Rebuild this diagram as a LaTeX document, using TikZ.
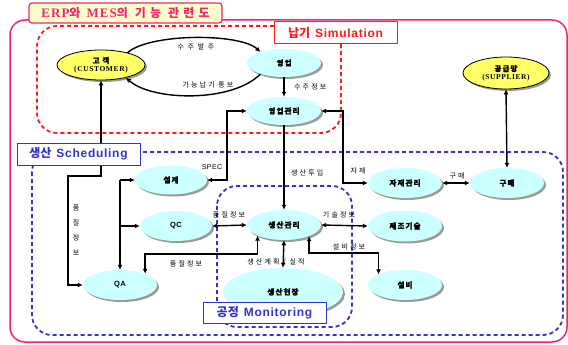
\documentclass[tikz,border=0pt]{standalone}
\usepackage{fontspec}
\setmainfont{Liberation Sans}
\newfontfamily\kr{Noto Sans CJK KR}
\newfontfamily\krs[LetterSpace=30]{Noto Sans CJK KR}
\newfontfamily\krn[LetterSpace=15, BoldFeatures={FakeBold=1.2}]{Noto Sans CJK KR}
\newfontfamily\krt[LetterSpace=35]{Noto Sans CJK KR}
\newfontfamily\serifb[LetterSpace=8]{Liberation Serif}
\newfontfamily\sansb[LetterSpace=6]{Liberation Sans}
\usetikzlibrary{arrows.meta,shapes.geometric,shadows}

\definecolor{pinkc}{HTML}{F2246E}
\definecolor{titlefill}{HTML}{FFFFCC}
\definecolor{yellowfill}{HTML}{FFFF66}
\definecolor{cyanfill}{HTML}{CCFFFF}
\definecolor{bluec}{HTML}{3333CC}
\definecolor{redc}{HTML}{FF1A1A}
\definecolor{shadowc}{HTML}{9A9A9A}

\tikzset{
  ell/.style={ellipse, inner sep=0pt,
    drop shadow={shadow xshift=2pt, shadow yshift=-2pt, fill=shadowc, opacity=1},
    font=\krn\bfseries\fontsize{7.5}{9}\selectfont, align=center},
  cyanell/.style={ell, fill=cyanfill, draw=none},
  yellowell/.style={ell, fill=yellowfill, draw=black, line width=0.8pt},
  tipp/.tip={Latex[length=5pt,width=5pt]},
  arr/.style={draw=black, line width=1.4pt, -tipp},
  biarr/.style={draw=black, line width=1.4pt, tipp-tipp},
  lbl/.style={font=\krs\fontsize{7}{8}\selectfont, inner sep=0pt},
  regionline/.style={line width=1.8pt, dash pattern=on 4pt off 3pt},
  tagbox/.style={fill=white, line width=1pt, inner sep=0pt,
    minimum width=123pt, font=\sansb\bfseries\fontsize{12}{14}\selectfont}
}

\begin{document}
\begin{tikzpicture}[x=1pt, y=-1pt]
\useasboundingbox (0,0) rectangle (568,345);

% outer frame and title
\draw[pinkc, line width=1.5pt, rounded corners=15pt] (10,20) rectangle (567,342);
\node[draw=pinkc, fill=titlefill, line width=1.2pt, rounded corners=3pt,
      minimum width=193pt, minimum height=20pt, inner sep=0pt, text=pinkc]
  (title) at (125.5,13)
  {{\serifb\bfseries\fontsize{13}{15}\selectfont ERP}{\krt\bfseries\fontsize{12}{15}\selectfont 와}\hspace{6pt}{\serifb\bfseries\fontsize{13}{15}\selectfont MES}{\krt\bfseries\fontsize{12}{15}\selectfont 의}\hspace{7pt}{\krt\bfseries\fontsize{12}{15}\selectfont 기능}\hspace{7pt}{\krt\bfseries\fontsize{12}{15}\selectfont 관련도}};

% regions
\draw[redc, regionline, rounded corners=20pt]
  (274,26) -- (37,26) -- (37,133) -- (341,133) -- (341,44);
\draw[bluec, regionline, rounded corners=20pt] (32,152) rectangle (563,335);
\draw[bluec, regionline, rounded corners=20pt] (217,186) rectangle (352,327);

% entities
\node[yellowell, minimum width=88pt, minimum height=30pt] (cust) at (101,65)
  {고 객\\[-1pt]{\serifb\bfseries\fontsize{7.5}{9}\selectfont (CUSTOMER)}};
\node[yellowell, minimum width=86pt, minimum height=32pt] (sup) at (506,73)
  {공급망\\[-1pt]{\serifb\bfseries\fontsize{7.5}{9}\selectfont (SUPPLIER)}};
\node[cyanell, minimum width=74pt, minimum height=28pt] (yg) at (284,63) {영업};
\node[cyanell, minimum width=74pt, minimum height=28pt] (ygm) at (284,111) {영업관리};
\node[cyanell, minimum width=72pt, minimum height=29pt] (sg) at (171,180) {설계};
\node[cyanell, minimum width=72pt, minimum height=30pt] (qc) at (176,226) {\sansb\bfseries QC};
\node[cyanell, minimum width=74pt, minimum height=30pt] (qa) at (120,285) {\sansb\bfseries QA};
\node[cyanell, minimum width=74pt, minimum height=30pt] (scm) at (284,225) {생산관리};
\node[cyanell, minimum width=120pt, minimum height=48pt] (scf) at (283,292) {생산현장};
\node[cyanell, minimum width=74pt, minimum height=30pt] (jj) at (405,183) {자재관리};
\node[cyanell, minimum width=74pt, minimum height=30pt] (gm) at (507,183) {구매};
\node[cyanell, minimum width=74pt, minimum height=31pt] (jt) at (405,226) {제조기술};
\node[cyanell, minimum width=74pt, minimum height=30pt] (sb) at (405,285) {설비};

% order and delivery loop
\draw[arr] (cust.25) .. controls (150,33) and (240,33) .. (yg.155);
\draw[arr] (yg.205) .. controls (232,103) and (152,101) .. (cust.333);
\node[lbl] (l1) at (196,47) {수 주 발 주};
\node[lbl] (l2) at (208,85) {가능납기 통보};

% sales flow
\draw[arr] (yg.south) -- (ygm.north);
\node[lbl, anchor=west] (l3) at (294,87) {수주정보};
\draw[arr] (ygm.south) -- (scm.north);
\node[lbl, anchor=west] (l4) at (291,173) {생산투입};
\draw[biarr] (ygm.west) -| (227,180) -- (sg.east);
\node[font=\sansb\fontsize{7}{8}\selectfont, inner sep=0pt] (l5) at (212,167) {SPEC};
\draw[biarr] (ygm.east) -| (343,183) -- (jj.west);
\node[lbl] (l6) at (358,171) {자재};
\draw[biarr] (jj.east) -- (gm.west);
\node[lbl] (l7) at (457,176) {구매};
\draw[biarr] (sup.south) -- (gm.north);

% quality information from customer
\draw[biarr] (cust.south) -- (101,176) -| (68,285) -- (qa.west);
\node[lbl, align=center, font=\kr\fontsize{7}{15}\selectfont] (l8) at (76,230) {품\\질\\정\\보};

% design / QC / QA branch
\coordinate (sgj) at (120,180);
\draw[arr] (sgj) -- (sg.west);
\draw[arr] (sgj |- qc.west) -- (qc.west);
\draw[arr] (sgj) -- (qa.north);

% links to production control
\draw[biarr] (qc.east) -- (scm.west);
\node[lbl] (l9) at (229,215) {품질정보};
\draw[biarr] (qa.24) |- (200,254) -| (scm.202);
\node[lbl] (l10) at (186,264) {품질정보};
\draw[biarr] (scm.south) -- (scf.north);
\node[lbl] (l11) at (276,262) {생산계획 / 실적};
\draw[biarr] (scm.east) -- (jt.west);
\node[lbl] (l12) at (339,215) {기술정보};
\draw[biarr] (scm.336) |- (340,253) -| (sb.158);
\node[lbl] (l13) at (349,247) {설비정보};

% region tags
\node[tagbox, draw=redc, text=redc, minimum height=22pt] (t1) at (335.5,33)
  {{\kr\bfseries 납기}\hspace{5pt}Simulation};
\node[tagbox, draw=bluec, text=bluec, minimum height=22pt] (t2) at (78.5,154)
  {{\kr\bfseries 생산}\hspace{5pt}Scheduling};
\node[tagbox, draw=bluec, text=bluec, minimum height=21pt] (t3) at (264.5,312.5)
  {{\kr\bfseries 공정}\hspace{5pt}Monitoring};
\end{tikzpicture}
\end{document}
